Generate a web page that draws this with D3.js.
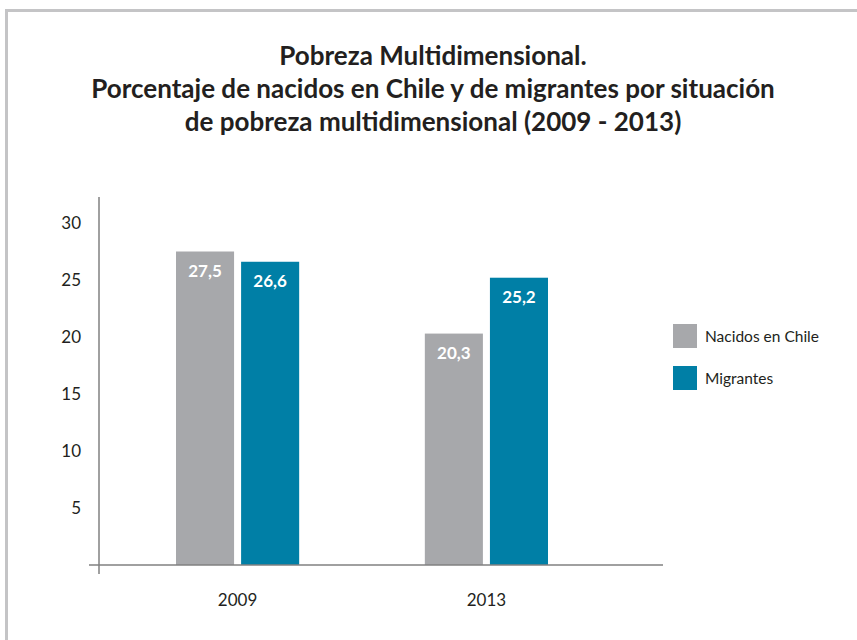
<!DOCTYPE html>
<html>
<head>
<meta charset="utf-8">
<script src="https://cdn.jsdelivr.net/npm/d3@7"></script>
<style>
  html, body { margin: 0; padding: 0; background: #ffffff; }
  svg { display: block; }
  text { font-family: Lato, "Open Sans", sans-serif; }
</style>
</head>
<body>
<svg id="chart" width="857" height="640"></svg>
<script>
// ---- data ----
const titleLines = [
  "Pobreza Multidimensional.",
  "Porcentaje de nacidos en Chile y de migrantes por situación",
  "de pobreza multidimensional (2009 - 2013)"
];
const years = ["2009", "2013"];
const series = ["Nacidos en Chile", "Migrantes"];
const nacidosEnChile = [27.5, 20.3];
const migrantes = [26.6, 25.2];
const yTicks = [5, 10, 15, 20, 25, 30];
const colors = ["#a7a8ab", "#007fa6"];

// ---- drawing ----
const svg = d3.select("#chart");
const textColor = "#231f20";
const axisColor = "#808080";

// frame (top and left lines)
svg.append("line").attr("x1", 6.5).attr("x2", 857).attr("y1", 10.5).attr("y2", 10.5)
  .attr("stroke", "#c4c4c6").attr("stroke-width", 3);
svg.append("line").attr("x1", 6.5).attr("x2", 6.5).attr("y1", 9).attr("y2", 640)
  .attr("stroke", "#c4c4c6").attr("stroke-width", 3);

// title
const titleBaselines = [65, 98, 131];
const title = svg.append("g");
const tl = title.selectAll("text").data(titleLines).join("text")
  .attr("x", 433).attr("y", (d, i) => titleBaselines[i])
  .attr("text-anchor", "middle")
  .attr("font-weight", 700)
  .attr("font-size", 24)
  .attr("fill", textColor)
  .text(d => d);
// fit the widest line to the reference width
const w2 = tl.nodes()[1].getComputedTextLength();
const fs = 24 * 684 / w2;
tl.attr("font-size", fs.toFixed(2));

// scales
const y = d3.scaleLinear().domain([0, 30]).range([565, 223]);
const x0 = d3.scaleBand().domain(years).range([176, 548]).paddingInner(0.505).paddingOuter(0);
const x1 = d3.scaleBand().domain(series).range([0, x0.bandwidth()]).paddingInner(0.108);

const rows = years.map((yr, i) => ({
  year: yr,
  values: [
    { s: series[0], v: nacidosEnChile[i] },
    { s: series[1], v: migrantes[i] }
  ]
}));

// bars
const groups = svg.selectAll("g.grp").data(rows).join("g").attr("class", "grp")
  .attr("transform", d => `translate(${x0(d.year)},0)`);
groups.selectAll("rect").data(d => d.values).join("rect")
  .attr("x", d => x1(d.s))
  .attr("y", d => y(d.v))
  .attr("width", x1.bandwidth())
  .attr("height", d => y(0) - y(d.v))
  .attr("fill", (d, i) => colors[i]);
groups.selectAll("text.val").data(d => d.values).join("text").attr("class", "val")
  .attr("x", d => x1(d.s) + x1.bandwidth() / 2)
  .attr("y", d => y(d.v) + 25)
  .attr("text-anchor", "middle")
  .attr("font-weight", 700)
  .attr("font-size", 17)
  .attr("fill", "#ffffff")
  .text(d => d3.format(".1f")(d.v).replace(".", ","));

// axes
svg.append("line").attr("x1", 99).attr("x2", 99).attr("y1", 197).attr("y2", 574)
  .attr("stroke", axisColor).attr("stroke-width", 1.5);
svg.append("line").attr("x1", 89).attr("x2", 663).attr("y1", 565).attr("y2", 565)
  .attr("stroke", axisColor).attr("stroke-width", 1.5);

const yAxis = d3.axisLeft(y).tickValues(yTicks).tickSize(0).tickPadding(0).tickFormat(d3.format("d"));
const ya = svg.append("g").attr("transform", "translate(81,0)").call(yAxis);
ya.select(".domain").remove();
ya.selectAll("text").attr("font-size", 17).attr("fill", textColor)
  .attr("font-family", "Lato, sans-serif").attr("dy", "0.32em");

const xAxis = d3.axisBottom(x0).tickSize(0).tickPadding(0);
const xa = svg.append("g").attr("transform", "translate(0,601)").call(xAxis);
xa.select(".domain").remove();
xa.selectAll("text").attr("font-size", 17).attr("fill", textColor)
  .attr("font-family", "Lato, sans-serif").attr("dy", "0.32em");

// legend
const legend = svg.append("g").attr("transform", "translate(673,324)");
const li = legend.selectAll("g").data(series).join("g")
  .attr("transform", (d, i) => `translate(0,${i * 42})`);
li.append("rect").attr("width", 24).attr("height", 24).attr("fill", (d, i) => colors[i]);
li.append("text").attr("x", 32).attr("y", 17.5)
  .attr("font-size", 15.5).attr("fill", textColor).text(d => d);
</script>
</body>
</html>
